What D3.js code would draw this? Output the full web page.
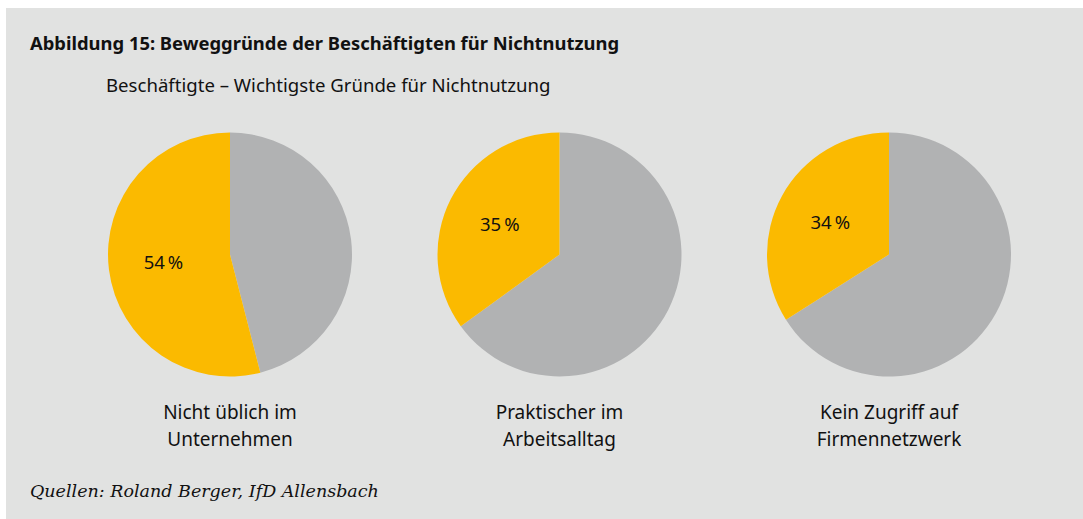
<!DOCTYPE html>
<html>
<head>
<meta charset="utf-8">
<script src="https://cdn.jsdelivr.net/npm/d3@7"></script>
<style>
  body { margin: 0; background: #fff; }
  svg { display: block; }
</style>
</head>
<body>
<script>
const categories = [
    ["Nicht üblich im", "Unternehmen"],
    ["Praktischer im", "Arbeitsalltag"],
    ["Kein Zugriff auf", "Firmennetzwerk"]
];
const shares = [54, 35, 34];
const sliceNames = ["rest", "share"];
const colors = { share: "#fbba00", rest: "#b1b2b3" };

const width = 1083, height = 519;
const sansFont = "'Noto Sans', 'Open Sans', sans-serif";

const svg = d3.select("body").append("svg")
    .attr("width", width)
    .attr("height", height);

svg.append("rect")
    .attr("x", 6).attr("y", 8)
    .attr("width", width - 6).attr("height", height - 8)
    .attr("fill", "#e1e2e1");

svg.append("text")
    .attr("x", 30).attr("y", 50)
    .style("font-family", sansFont)
    .style("font-size", "18.4px")
    .style("font-weight", "bold")
    .attr("fill", "#111")
    .text("Abbildung 15: Beweggründe der Beschäftigten für Nichtnutzung");

svg.append("text")
    .attr("x", 106).attr("y", 92)
    .style("font-family", sansFont)
    .style("font-size", "18.6px")
    .attr("fill", "#111")
    .text("Beschäftigte – Wichtigste Gründe für Nichtnutzung");

// pie centres
const x = d3.scalePoint()
    .domain(d3.range(shares.length))
    .range([230, 889]);
const cy = 254.5, radius = 122;

const pie = d3.pie().sort(null).value(d => d.value);
const arc = d3.arc().innerRadius(0).outerRadius(radius);
const labelArc = d3.arc().innerRadius(radius * 0.55).outerRadius(radius * 0.55);

shares.forEach((share, i) => {
    const data = [
        { name: sliceNames[0], value: 100 - share },
        { name: sliceNames[1], value: share }
    ];
    const g = svg.append("g")
        .attr("transform", `translate(${x(i)},${cy})`);

    const arcs = pie(data);
    g.selectAll("path")
        .data(arcs)
        .enter().append("path")
        .attr("d", arc)
        .attr("fill", d => colors[d.data.name]);

    const c = labelArc.centroid(arcs[1]);
    g.append("text")
        .attr("x", c[0]).attr("y", c[1])
        .attr("text-anchor", "middle")
        .attr("dy", "0.35em")
        .style("font-family", sansFont)
        .style("font-size", "18.5px")
        .attr("fill", "#111")
        .text(`${share}\u2009%`);

    const lbl = svg.append("text")
        .attr("text-anchor", "middle")
        .style("font-family", sansFont)
        .style("font-size", "19px")
        .attr("fill", "#111");
    categories[i].forEach((line, j) => {
        lbl.append("tspan")
            .attr("x", x(i))
            .attr("y", 419 + j * 27)
            .text(line);
    });
});

svg.append("text")
    .attr("x", 30).attr("y", 497)
    .style("font-family", "'DejaVu Serif', 'Liberation Serif', serif")
    .style("font-size", "17.5px")
    .style("font-style", "italic")
    .attr("fill", "#111")
    .text("Quellen: Roland Berger, IfD Allensbach");
</script>
</body>
</html>
